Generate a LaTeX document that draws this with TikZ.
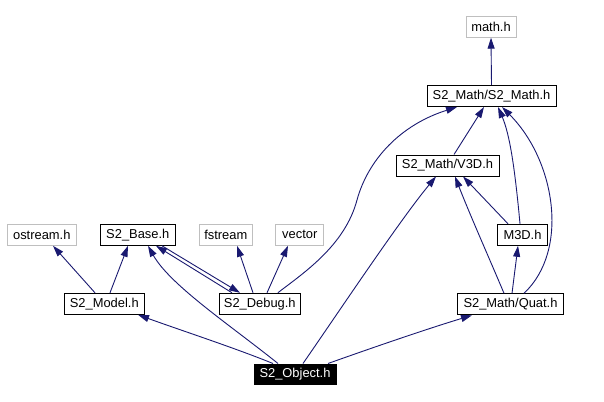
\documentclass[tikz,border=0pt]{standalone}
\usepackage{fontspec}
\setmainfont{Liberation Sans}
\usetikzlibrary{arrows.meta}
\definecolor{edgeblue}{HTML}{191970}
\definecolor{boxgray}{HTML}{BFBFBF}
\begin{document}
\begin{tikzpicture}[x=1pt,y=-1pt,
  font=\fontsize{12.9}{15}\selectfont,
  box/.style={draw=black,line width=1pt,fill=white,inner sep=0pt,minimum height=21pt},
  ext/.style={box,draw=boxgray},
  root/.style={box,draw=black,fill=black,text=white,minimum height=20pt},
  e/.style={draw=edgeblue,line width=0.9pt,-{Triangle[length=11pt,width=7pt]}}]
\useasboundingbox (0,0) rectangle (604,401);
\node[ext,minimum width=50pt] (math) at (491,26.7) {math.h};
\node[box,minimum width=129pt] (smath) at (491.5,96) {S2\_Math/S2\_Math.h};
\node[box,minimum width=103pt] (v3d) at (447.5,165.5) {S2\_Math/V3D.h};
\node[box,minimum width=50pt] (m3d) at (522.5,234.8) {M3D.h};
\node[box,minimum width=106pt] (quat) at (510.5,304.3) {S2\_Math/Quat.h};
\node[root,minimum width=82pt] (obj) at (295,374) {S2\_Object.h};
\node[ext,minimum width=69pt] (ostream) at (41.8,234.8) {ostream.h};
\node[box,minimum width=75pt] (base) at (137.8,234.8) {S2\_Base.h};
\node[ext,minimum width=53pt] (fstream) at (225.8,234.8) {fstream};
\node[ext,minimum width=48pt] (vector) at (299.8,234.8) {vector};
\node[box,minimum width=80pt] (model) at (104.3,303.8) {S2\_Model.h};
\node[box,minimum width=81pt] (debug) at (259.8,303.8) {S2\_Debug.h};

\draw[e] (smath.north) -- (math.south);
\draw[e] ([xshift=6.5pt]v3d.north) -- ([xshift=-7.5pt]smath.south);
\draw[e] ([xshift=18pt]debug.north) .. controls (305,272) and (345,245) .. (357,200)
   .. controls (368,160) and (400,125) .. ([xshift=-34.5pt]smath.south);
\draw[e] ([xshift=8pt]obj.north) .. controls (340,310) and (400,220) .. ([xshift=-11.5pt]v3d.south);
\draw[e] ([xshift=-6.5pt]quat.north) .. controls (490,260) and (470,215) .. ([xshift=7.5pt]v3d.south);
\draw[e] ([xshift=-14.5pt]m3d.north) -- ([xshift=15.5pt]v3d.south);
\draw[e] ([xshift=-2.5pt]m3d.north) .. controls (515,170) and (510,135) .. ([xshift=6.5pt]smath.south);
\draw[e] ([xshift=13.5pt]quat.north) .. controls (570,250) and (555,160) .. ([xshift=10.5pt]smath.south);
\draw[e] ([xshift=1.5pt]quat.north) -- ([xshift=-4.5pt]m3d.south);
\draw[e] ([xshift=33pt]obj.north) .. controls (380,345) and (430,328) .. ([xshift=-38.5pt]quat.south);
\draw[e] ([xshift=-22pt]obj.north) .. controls (235,348) and (180,330) .. ([xshift=33.7pt]model.south);
\draw[e] ([xshift=-17pt]obj.north) .. controls (230,325) and (170,285) .. ([xshift=10.2pt]base.south);
\draw[e] ([xshift=-9.3pt]model.north) -- ([xshift=11.2pt]ostream.south);
\draw[e] ([xshift=5.7pt]model.north) -- ([xshift=-9.8pt]base.south);
\draw[e] ([xshift=24.2pt]base.south) -- ([xshift=-19.8pt]debug.north);
\draw[e] ([xshift=-27.8pt]debug.north) -- ([xshift=18.2pt]base.south);
\draw[e] ([xshift=-6.8pt]debug.north) -- ([xshift=11.2pt]fstream.south);
\draw[e] ([xshift=7.2pt]debug.north) -- ([xshift=-11.8pt]vector.south);
\end{tikzpicture}
\end{document}
